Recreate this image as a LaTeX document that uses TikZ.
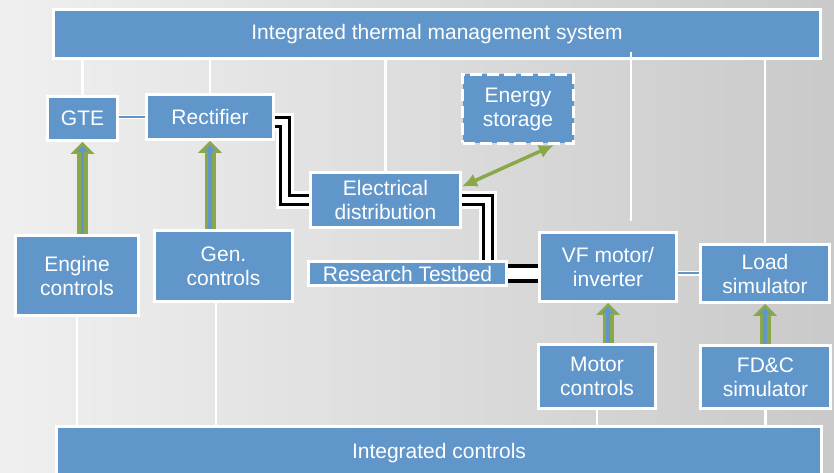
\documentclass[tikz,border=0pt]{standalone}
\usepackage{fontspec}
\setmainfont{Liberation Sans}
\usetikzlibrary{arrows.meta}
\definecolor{cblue}{RGB}{96,150,202}
\definecolor{cgreen}{RGB}{138,167,74}
\def\boxfont{\fontsize{21bp}{24bp}\selectfont}

\begin{document}
\begin{tikzpicture}[x=1bp,y=-1bp,
    box/.style={draw=white,line width=3bp,fill=cblue,text=white,font=\boxfont,align=center,inner sep=0pt},
    tline/.style={draw=white,line width=2.5bp},
    link/.style={draw=white,double=cblue,line width=1.2bp,double distance=2bp},
    pwr/.style={draw=black,double=white,line width=3bp,double distance=6bp,preaction={draw=white,line width=18bp}},
    ctl/.style={draw=cgreen,line width=11bp,-{Triangle[length=12bp,width=24bp,line width=0pt]},
        postaction={draw=cblue,line width=3.5bp,shorten >=4bp,-{Triangle[length=6bp,width=11bp,line width=0pt]}}},
    dbl/.style={draw=cgreen,line width=3.5bp,{Latex[length=15bp,width=14bp]}-{Latex[length=15bp,width=14bp]}}]

    \shade[left color=gray!12,right color=gray!42] (0,0) rectangle (834,473);
    \useasboundingbox (0,0) rectangle (834,473);

    \node[box,minimum width=766bp,minimum height=49bp] (tms) at (437,34) {Integrated thermal management system};
    \node[box,minimum width=70bp,minimum height=44bp] (gte) at (82.5,118.5) {GTE};
    \node[box,minimum width=127bp,minimum height=45bp] (rect) at (210,117) {Rectifier};
    \node[box,dash pattern=on 12bp off 5bp,minimum width=111bp,minimum height=69bp] (es) at (518,109) {Energy\\storage};
    \node[box,minimum width=150bp,minimum height=55bp] (ed) at (385.5,200) {Electrical\\distribution};
    \node[box,minimum width=198bp,minimum height=24bp] (rt) at (407.5,273.5) {Research Testbed};
    \node[box,minimum width=137bp,minimum height=69bp] (vf) at (608,267) {VF motor/\\inverter};
    \node[box,minimum width=129bp,minimum height=58bp] (load) at (765,273.5) {Load\\simulator};
    \node[box,minimum width=123bp,minimum height=80bp] (eng) at (77,275.5) {Engine\\controls};
    \node[box,minimum width=138bp,minimum height=71bp] (gen) at (223.5,266) {Gen.\\controls};
    \node[box,minimum width=117bp,minimum height=64bp] (mc) at (597,376.5) {Motor\\controls};
    \node[box,minimum width=130bp,minimum height=63bp] (fdc) at (765.5,377) {FD\&C\\simulator};
    \node[box,minimum width=765bp,minimum height=54bp] (ic) at (439,453.5) {Integrated controls};

    % thermal management links
    \coordinate (vft) at ([xshift=23bp]vf.north);
    \draw[tline] (gte.north) -- (gte.north |- tms.south);
    \draw[tline] (rect.north) -- (rect.north |- tms.south);
    \draw[tline] (ed.north) -- (ed.north |- tms.south);
    \draw[tline,shorten <=10bp,shorten >=-8bp] (vft) -- (vft |- tms.south);
    \draw[tline] (load.north) -- (load.north |- tms.south);

    % controls links
    \coordinate (gnb) at ([xshift=-7.5bp]gen.south);
    \draw[tline] (eng.south) -- (eng.south |- ic.north);
    \draw[tline] (gnb) -- (gnb |- ic.north);
    \draw[tline] (mc.south) -- (mc.south |- ic.north);
    \draw[tline] (fdc.south) -- (fdc.south |- ic.north);

    \draw[link] (gte.east |- rect.west) -- (rect.west);
    \draw[link] (vf.east |- load.west) -- (load.west);

    % power
    \draw[pwr] ([yshift=-5bp]rect.east) -- ++(10,0) |- (ed.west);
    \draw[pwr] (ed.east) -| ([xshift=80bp]rt.north);
    \draw[pwr,line width=4bp,double distance=11bp] (rt.east) -- (rt.east -| vf.west);

    \draw[ctl] (gte.south |- eng.north) -- (gte.south);
    \draw[ctl] (rect.south |- gen.north) -- (rect.south);
    \draw[ctl] (vf.south |- mc.north) -- (vf.south);
    \draw[ctl] (load.south |- fdc.north) -- (load.south);

    \draw[dbl] (ed.10) -- (es.315);
\end{tikzpicture}
\end{document}
